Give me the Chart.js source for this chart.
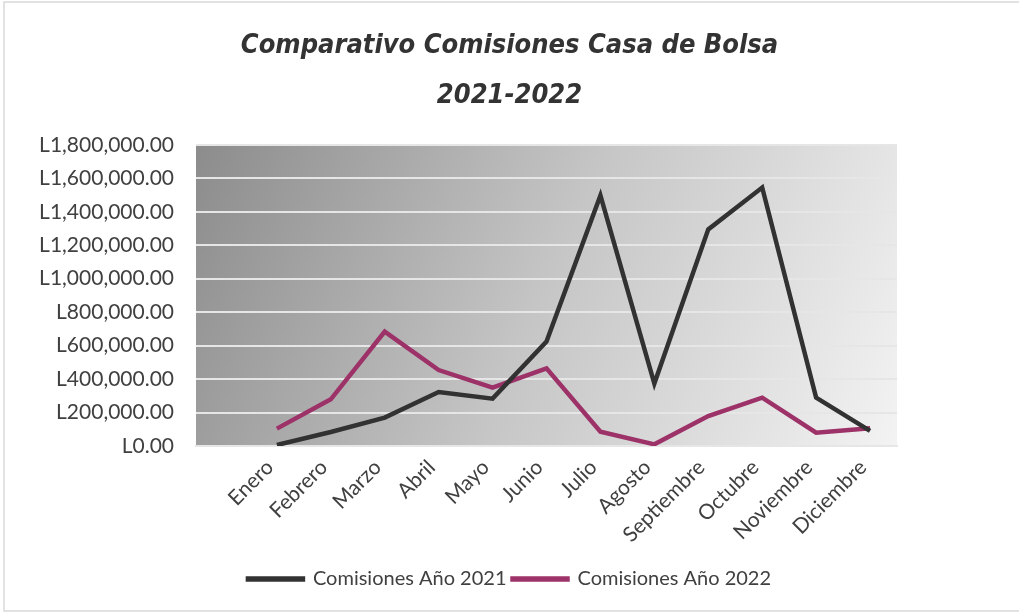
<!DOCTYPE html>
<html>
<head>
<meta charset="utf-8">
<script src="https://cdn.jsdelivr.net/npm/chart.js@4/dist/chart.umd.min.js"></script>
<style>
  html, body { margin: 0; padding: 0; background: #ffffff; }
  #wrap { width: 1019px; height: 613px; position: relative; }
</style>
</head>
<body>
<div id="wrap"><canvas id="myChart" width="1019" height="613"></canvas></div>
<script>
// Datos del grafico
var meses = ['Enero', 'Febrero', 'Marzo', 'Abril', 'Mayo', 'Junio', 'Julio', 'Agosto', 'Septiembre', 'Octubre', 'Noviembre', 'Diciembre'];
var comisiones2021 = [6000, 84000, 170000, 323000, 283000, 625000, 1498000, 373000, 1295000, 1545000, 289000, 90000];
var comisiones2022 = [104000, 279000, 684000, 454000, 349000, 464000, 86000, 10000, 179000, 289000, 80000, 106000];
var ticksY = [0, 200000, 400000, 600000, 800000, 1000000, 1200000, 1400000, 1600000, 1800000];

var fuente = "Lato, 'Open Sans', sans-serif";

// fondo degradado del area del grafico y marco exterior
var fondoPlugin = {
  id: 'fondo',
  beforeDraw: function(chart) {
    var c = chart.ctx, a = chart.chartArea;
    var g = c.createLinearGradient(a.left, a.top, a.right, a.bottom);
    g.addColorStop(0, '#8c8c8c');
    g.addColorStop(0.5, '#c6c6c6');
    g.addColorStop(1, '#f3f3f3');
    c.save();
    c.fillStyle = g;
    c.fillRect(a.left, a.top, a.right - a.left, a.bottom - a.top);
    c.restore();
  },
  afterDraw: function(chart) {
    var c = chart.ctx;
    c.save();
    c.strokeStyle = '#d9d9d9';
    c.lineWidth = 1.5;
    c.strokeRect(4, 2, 1030, 609);
    c.restore();
  }
};

var ctx = document.getElementById('myChart').getContext('2d');
var chart = new Chart(ctx, {
  type: 'line',
  data: {
    labels: [''].concat(meses),
    datasets: [{
      label: 'Comisiones Año 2021',
      data: [null].concat(comisiones2021),
      borderColor: '#323232',
      backgroundColor: '#323232',
      borderWidth: 4.5,
      pointRadius: 0,
      tension: 0
    }, {
      label: 'Comisiones Año 2022',
      data: [null].concat(comisiones2022),
      borderColor: '#9c3268',
      backgroundColor: '#9c3268',
      borderWidth: 4.5,
      pointRadius: 0,
      tension: 0
    }]
  },
  plugins: [fondoPlugin],
  options: {
    responsive: false,
    animation: false,
    layout: { padding: { left: 0, right: 0, top: 0, bottom: 14 } },
    plugins: {
      title: {
        display: true,
        text: ['Comparativo Comisiones Casa de Bolsa', '2021-2022'],
        color: '#333333',
        font: { family: "'Liberation Sans Narrow', 'DejaVu Sans Condensed', sans-serif", size: 27, weight: 'bold', style: 'italic', lineHeight: 1.85 },
        padding: { top: 21, bottom: 24 }
      },
      legend: {
        position: 'bottom',
        labels: {
          color: '#404040',
          font: { family: fuente, size: 20 },
          boxWidth: 55,
          boxHeight: 1,
          padding: 6
        }
      },
      tooltip: { enabled: false }
    },
    scales: {
      x: {
        offset: true,
        grid: { display: false, drawTicks: false },
        border: { display: true, color: '#e6e6e6', width: 2 },
        ticks: {
          color: '#404040',
          font: { family: fuente, size: 21 },
          minRotation: 45,
          maxRotation: 45,
          autoSkip: false,
          padding: 9,
          labelOffset: -7
        },
        afterFit: function(s) { s.height = 117; }
      },
      y: {
        min: 0,
        max: 1800000,
        afterBuildTicks: function(s) { s.ticks = ticksY.map(function(v) { return { value: v }; }); },
        grid: { color: '#e6e6e6', lineWidth: 2, drawTicks: false },
        border: { display: false },
        ticks: {
          color: '#404040',
          font: { family: fuente, size: 21 },
          padding: 22,
          callback: function(v) {
            return 'L' + Number(v).toLocaleString('en-US', { minimumFractionDigits: 2, maximumFractionDigits: 2 });
          }
        },
        afterFit: function(s) { s.width = 196; }
      },
      // eje vacio a la derecha, solo para dejar el margen del area del grafico
      margenDerecho: {
        type: 'linear',
        position: 'right',
        display: true,
        grid: { display: false, drawTicks: false },
        border: { display: false },
        ticks: { display: false },
        afterFit: function(s) { s.width = 122; }
      }
    }
  }
});
</script>
</body>
</html>
